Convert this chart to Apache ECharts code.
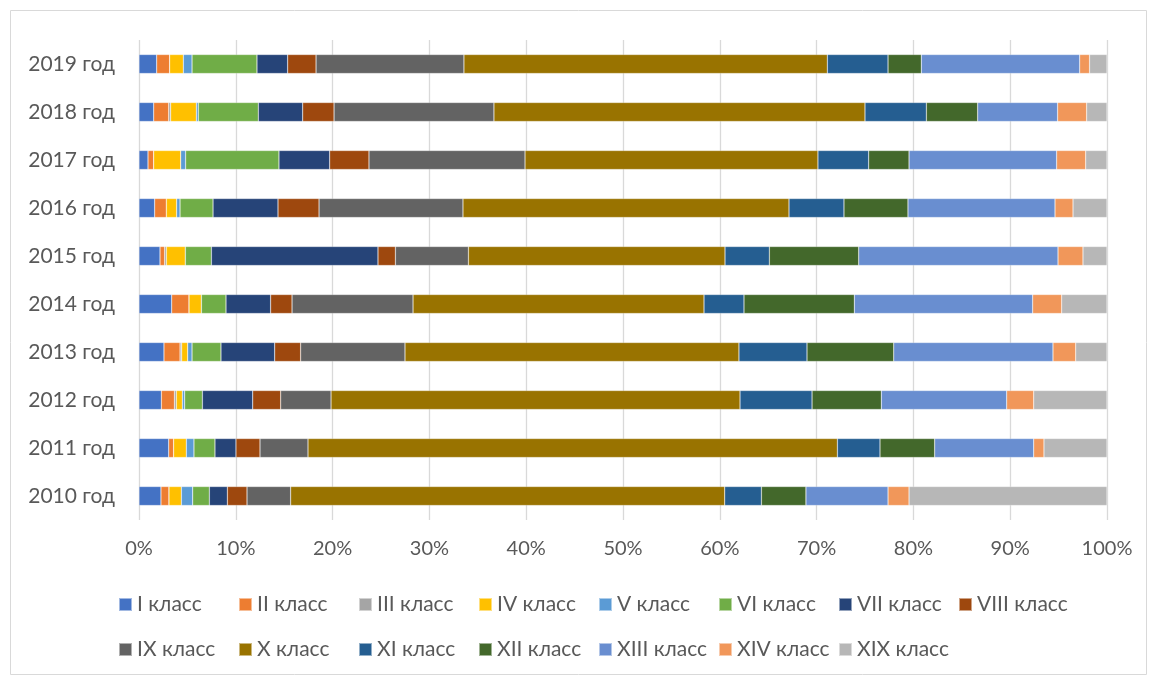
<!DOCTYPE html>
<html><head><meta charset="utf-8">
<script src="https://cdn.jsdelivr.net/npm/echarts@6/dist/echarts.min.js"></script>
<style>html,body{margin:0;padding:0;background:#fff}#c{width:1150px;height:677px}</style>
</head><body><div id="c"></div>
<script>
const years = ['2010 год','2011 год','2012 год','2013 год','2014 год','2015 год','2016 год','2017 год','2018 год','2019 год'];
const seriesNames = ['I класс','II класс','III класс','IV класс','V класс','VI класс','VII класс','VIII класс','IX класс','X класс','XI класс','XII класс','XIII класс','XIV класс','XIX класс'];
const colors = ['#4472C4','#ED7D31','#A5A5A5','#FFC000','#5B9BD5','#70AD47','#264478','#9E480E','#636363','#997300','#255E91','#43682B','#698ED0','#F1975A','#B7B7B7'];
const xTicks = ['0%','10%','20%','30%','40%','50%','60%','70%','80%','90%','100%'];
// values by year 2010..2019 (percent)
const cls1  = [2.27, 3.07, 2.31, 2.58, 3.38, 2.17, 1.62, 0.93, 1.52, 1.83];
const cls2  = [0.83, 0.51, 1.35, 1.66, 1.79, 0.48, 1.21, 0.59, 1.55, 1.34];
const cls3  = [0, 0, 0.2, 0.17, 0, 0.18, 0, 0, 0.2, 0];
const cls4  = [1.28, 1.31, 0.62, 0.62, 1.28, 1.96, 1.06, 2.79, 2.66, 1.41];
const cls5  = [1.17, 0.79, 0.24, 0.45, 0, 0, 0.35, 0.51, 0.2, 0.9];
const cls6  = [1.72, 2.17, 1.83, 2.99, 2.54, 2.69, 3.41, 9.64, 6.2, 6.71];
const cls7  = [1.86, 2.17, 5.2, 5.55, 4.61, 17.21, 6.71, 5.24, 4.58, 3.17];
const cls8  = [2.03, 2.48, 2.89, 2.68, 2.21, 1.8, 4.24, 4.06, 3.24, 2.93];
const cls9  = [4.51, 4.96, 5.2, 10.78, 12.5, 7.54, 14.87, 16.12, 16.52, 15.28];
const cls10 = [44.84, 54.69, 42.25, 34.5, 30.06, 26.51, 33.68, 30.26, 38.33, 37.54];
const cls11 = [3.79, 4.4, 7.44, 7.03, 4.13, 4.58, 5.68, 5.24, 6.34, 6.27];
const cls12 = [4.6, 5.65, 7.16, 8.96, 11.4, 9.23, 6.61, 4.17, 5.3, 3.44];
const cls13 = [8.48, 10.23, 12.95, 16.45, 18.42, 20.59, 15.19, 15.25, 8.26, 16.36];
const cls14 = [2.17, 1.06, 2.79, 2.35, 3.0, 2.58, 1.86, 3.0, 3.0, 1.02];
const cls19 = [20.45, 6.51, 7.57, 3.23, 4.68, 2.48, 3.51, 2.2, 2.1, 1.8];

const allValues = [cls1,cls2,cls3,cls4,cls5,cls6,cls7,cls8,cls9,cls10,cls11,cls12,cls13,cls14,cls19];
const FONT = 'Lato';
const chart = echarts.init(document.getElementById('c'), null, {renderer:'canvas'});
const legends = seriesNames.map((n,i)=>({
  orient:'horizontal', left:118 + (i % 8) * 120, top: i < 8 ? 594 : 639,
  itemWidth:13, itemHeight:13, itemGap:5, icon:'rect', padding:0,
  textStyle:{color:'#595959', fontSize:21, fontFamily:FONT, padding:[0,0,0,0]},
  data:[n]
}));
chart.setOption({
  animation:false,
  color: colors,
  graphic:[{type:'rect', left:8, top:8, shape:{width:1136, height:664}, style:{fill:null, stroke:'#d9d9d9', lineWidth:1}, silent:true}],
  legend: legends,
  grid:{left:139, right:43, top:40, height:480, containLabel:false},
  xAxis:{type:'value', min:0, max:100, interval:10,
    axisLine:{show:false}, axisTick:{show:false},
    splitLine:{lineStyle:{color:'#d9d9d9', width:1.3}},
    axisLabel:{color:'#595959', fontSize:20, fontFamily:FONT, margin:19,
      formatter:(v)=>xTicks[Math.round(v/10)]}},
  yAxis:{type:'category', data:years,
    axisLine:{show:false}, axisTick:{show:false},
    axisLabel:{color:'#595959', fontSize:21, fontFamily:FONT, margin:24}},
  series: seriesNames.map((n,i)=>({
    name:n, type:'bar', stack:'total', barWidth:19, data:allValues[i],
    itemStyle:{color:colors[i], borderColor:'rgba(255,255,255,0.5)', borderWidth:0.5}
  }))
});
</script></body></html>
